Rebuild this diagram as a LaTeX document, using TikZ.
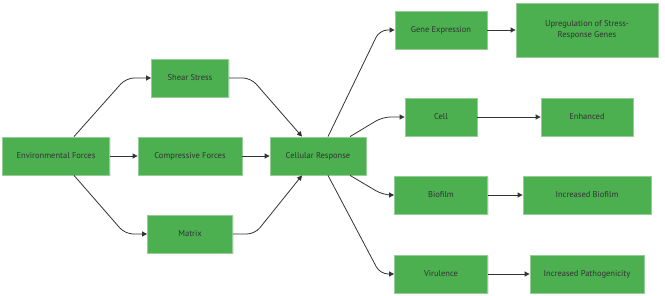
\documentclass[tikz,border=0pt]{standalone}
\usepackage{fontspec}
\setmainfont{PT Sans}
\usetikzlibrary{arrows.meta,shadows}
\definecolor{boxgreen}{RGB}{76, 175, 80}
\definecolor{boxline}{RGB}{150, 205, 150}
\definecolor{textgrey}{RGB}{51, 51, 51}
\definecolor{linegrey}{RGB}{51, 51, 51}

\begin{document}
\begin{tikzpicture}[
    x=1pt, y=-1pt,
    box/.style={draw=boxline, line width=0.8pt, fill=boxgreen, text=textgrey,
        font=\fontsize{8.5}{11}\selectfont, minimum height=38pt, inner sep=0pt,
        align=center, drop shadow={opacity=0.18, shadow xshift=1pt, shadow yshift=-1pt}},
    arr/.style={draw=linegrey, line width=0.8pt, rounded corners=8pt,
        -{Triangle[length=5pt,width=5pt]}}
]
\useasboundingbox (0,0) rectangle (665,296);

\node[box, minimum width=107pt] (env) at (56,156) {Environmental Forces};
\node[box, minimum width=77pt] (shear) at (190,78) {Shear Stress};
\node[box, minimum width=104pt] (comp) at (190,156) {Compressive Forces};
\node[box, minimum width=85pt] (matrix) at (190,234) {Matrix};
\node[box, minimum width=96pt] (resp) at (318,156) {Cellular Response};

\node[box, minimum width=92pt] (gene) at (441,30) {Gene Expression};
\node[box, minimum width=142pt, minimum height=54pt] (upreg) at (587,30) {Upregulation of Stress-\\Response Genes};
\node[box, minimum width=72pt] (cell) at (441,117) {Cell};
\node[box, minimum width=92pt] (enh) at (587,117) {Enhanced};
\node[box, minimum width=93pt] (bio) at (441,195) {Biofilm};
\node[box, minimum width=128pt] (incbio) at (587,195) {Increased Biofilm};
\node[box, minimum width=93pt] (vir) at (441,274) {Virulence};
\node[box, minimum width=114pt] (incpath) at (587,274) {Increased Pathogenicity};

\draw[arr] ([xshift=18pt]env.north) -- ([xshift=-25pt]shear.west) -- (shear.west);
\draw[arr] (env.east) -- (comp.west);
\draw[arr] ([xshift=18pt]env.south) -- ([xshift=-22pt]matrix.west) -- (matrix.west);

\draw[arr] (shear.east) -- ([xshift=22pt]shear.east) -- ([xshift=-16pt]resp.north);
\draw[arr] (comp.east) -- (resp.west);
\draw[arr] (matrix.east) -- ([xshift=22pt]matrix.east) -- ([xshift=-16pt]resp.south);

\draw[arr] ([xshift=10pt]resp.north) -- ([xshift=-15pt]gene.west) -- (gene.west);
\draw[arr] ([xshift=32pt]resp.north) -- ([xshift=-22pt]cell.west) -- (cell.west);
\draw[arr] ([xshift=32pt]resp.south) -- ([xshift=-11pt]bio.west) -- (bio.west);
\draw[arr] ([xshift=10pt]resp.south) -- ([xshift=-14pt]vir.west) -- (vir.west);

\draw[arr] (gene.east) -- (upreg.west);
\draw[arr] (cell.east) -- (enh.west);
\draw[arr] (bio.east) -- (incbio.west);
\draw[arr] (vir.east) -- (incpath.west);
\end{tikzpicture}
\end{document}
